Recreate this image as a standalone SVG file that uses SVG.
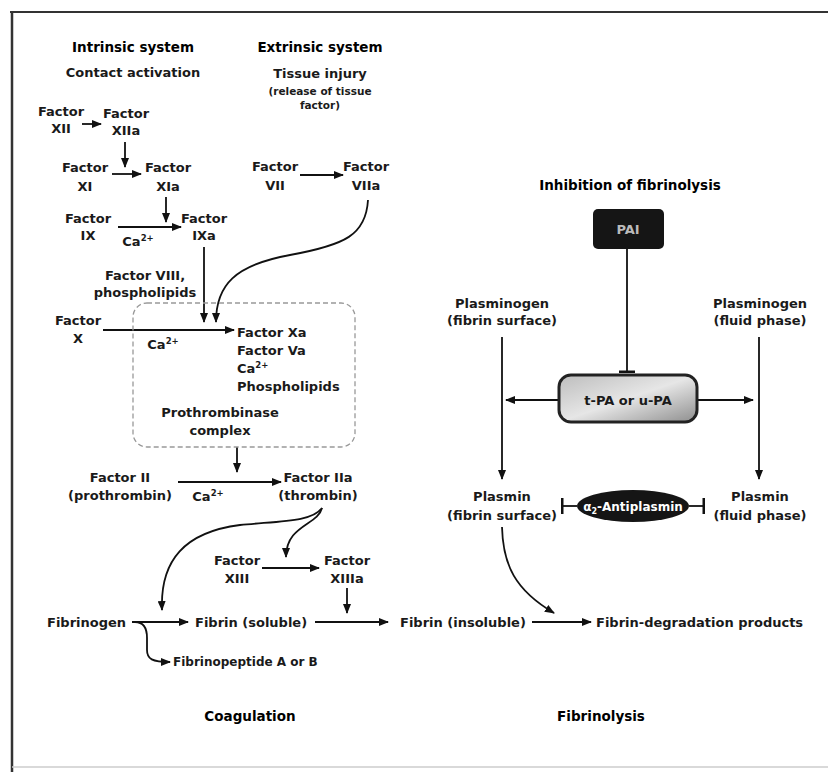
<svg xmlns="http://www.w3.org/2000/svg" width="828" height="772" viewBox="0 0 828 772">
<defs>
<style>
text{font-family:"DejaVu Sans","Liberation Sans",sans-serif;font-size:13px;font-weight:bold;fill:#1a1a1a}
.c{text-anchor:middle}
.h{font-size:13.5px;fill:#000}
.s{font-size:10.5px}
.ln{fill:none;stroke:#111;stroke-width:1.8}
.ar{marker-end:url(#ah)}
.sup{font-size:8.5px}
</style>
<marker id="ah" markerUnits="userSpaceOnUse" markerWidth="10" markerHeight="8" refX="9" refY="4" orient="auto">
<path d="M0,0 L10,4 L0,8 Z" fill="#111"/>
</marker>
<marker id="tb" markerUnits="userSpaceOnUse" markerWidth="4" markerHeight="16" refX="2" refY="8" orient="auto">
<rect x="0.5" y="0" width="2.5" height="16" fill="#111"/>
</marker>
<linearGradient id="tpa" x1="0" y1="0" x2="1" y2="1">
<stop offset="0" stop-color="#bdbdbd"/>
<stop offset="0.5" stop-color="#e6e6e6"/>
<stop offset="1" stop-color="#8e8e8e"/>
</linearGradient>
</defs>
<rect x="0" y="0" width="828" height="772" fill="#fff"/>
<g id="frame">
<line x1="10" y1="12" x2="828" y2="12" stroke="#333" stroke-width="2"/>
<line x1="12" y1="12" x2="12" y2="772" stroke="#333" stroke-width="2.5"/>
<line x1="12" y1="767" x2="828" y2="767" stroke="#ccc" stroke-width="1.5"/>
</g>
<g id="connectors">
<path class="ln ar" d="M82,124 L101,124"/>
<path class="ln ar" d="M125,142 L125,167"/>
<path class="ln ar" d="M112,174 L141,174"/>
<path class="ln ar" d="M166,197 L166,222"/>
<path class="ln ar" d="M118,227 L181,227"/>
<path class="ln ar" d="M300,175 L343,175"/>
<path class="ln ar" d="M368,200 C366,235 345,245 290,255 C235,265 216,285 216,322"/>
<path class="ln ar" d="M204,247 L204,322"/>
<path class="ln ar" d="M103,330 L234,330"/>
<path class="ln ar" d="M237,447 L237,472"/>
<path class="ln ar" d="M178,482 L281,482"/>
<path class="ln ar" d="M322,508 C312,522 280,521 240,525 C185,532 160,560 162,610"/>
<path class="ln ar" d="M322,508 C318,525 286,525 286,557"/>
<path class="ln ar" d="M262,568 L319,568"/>
<path class="ln ar" d="M347,588 L347,613"/>
<path class="ln ar" d="M132,622 L188,622"/>
<path class="ln ar" d="M135,622 C144,622 147,628 147,638 L147,650 C147,659 152,662 170,662"/>
<path class="ln ar" d="M315,622 L388,622"/>
<path class="ln ar" d="M532,622 L591,622"/>
<path class="ln" d="M627,249 L627,372" marker-end="url(#tb)"/>
<path class="ln ar" d="M559,400 L506,400"/>
<path class="ln ar" d="M697,400 L753,400"/>
<path class="ln ar" d="M502,337 L502,479"/>
<path class="ln ar" d="M759,337 L759,479"/>
<path class="ln" d="M577,506 L562,506" marker-end="url(#tb)"/>
<path class="ln" d="M689,506 L704,506" marker-end="url(#tb)"/>
<path class="ln ar" d="M502,527 C503,565 515,590 554,613"/>
</g>
<g id="intrinsic-header">
<text class="c h" x="133" y="52">Intrinsic system</text>
<text class="c" x="133" y="77">Contact activation</text>
</g>
<g id="extrinsic-header">
<text class="c h" x="320" y="52">Extrinsic system</text>
<text class="c" x="320" y="78">Tissue injury</text>
<text class="c s" x="320" y="95">(release of tissue</text>
<text class="c s" x="320" y="109">factor)</text>
</g>
<g id="factor-XII"><text class="c" x="61" y="116">Factor</text><text class="c" x="61" y="133">XII</text></g>
<g id="factor-XIIa"><text class="c" x="126" y="118">Factor</text><text class="c" x="126" y="135">XIIa</text></g>
<g id="factor-XI"><text class="c" x="85" y="172">Factor</text><text class="c" x="85" y="191">XI</text></g>
<g id="factor-XIa"><text class="c" x="168" y="172">Factor</text><text class="c" x="168" y="191">XIa</text></g>
<g id="factor-IX"><text class="c" x="88" y="223">Factor</text><text class="c" x="88" y="240">IX</text></g>
<g id="ca-1"><text class="c" x="138" y="246">Ca<tspan class="sup" dy="-5">2+</tspan></text></g>
<g id="factor-IXa"><text class="c" x="204" y="223">Factor</text><text class="c" x="204" y="240">IXa</text></g>
<g id="factor-VII"><text class="c" x="275" y="171">Factor</text><text class="c" x="275" y="190">VII</text></g>
<g id="factor-VIIa"><text class="c" x="366" y="171">Factor</text><text class="c" x="366" y="190">VIIa</text></g>
<g id="factor-VIII"><text class="c" x="145" y="280">Factor VIII,</text><text class="c" x="145" y="297">phospholipids</text></g>
<g id="factor-X"><text class="c" x="78" y="325">Factor</text><text class="c" x="78" y="343">X</text></g>
<g id="ca-2"><text class="c" x="163" y="349">Ca<tspan class="sup" dy="-5">2+</tspan></text></g>
<g id="prothrombinase">
<rect x="133" y="303" width="222" height="144" rx="14" fill="none" stroke="#999" stroke-width="1.3" stroke-dasharray="5,3"/>
<text x="237" y="337">Factor Xa</text>
<text x="237" y="355">Factor Va</text>
<text x="237" y="373">Ca<tspan class="sup" dy="-5">2+</tspan></text>
<text x="237" y="391">Phospholipids</text>
<text class="c" x="220" y="417">Prothrombinase</text>
<text class="c" x="220" y="435">complex</text>
</g>
<g id="factor-II"><text class="c" x="120" y="482">Factor II</text><text class="c" x="120" y="500">(prothrombin)</text></g>
<g id="ca-3"><text class="c" x="208" y="501">Ca<tspan class="sup" dy="-5">2+</tspan></text></g>
<g id="factor-IIa"><text class="c" x="318" y="482">Factor IIa</text><text class="c" x="318" y="500">(thrombin)</text></g>
<g id="factor-XIII"><text class="c" x="237" y="565">Factor</text><text class="c" x="237" y="583">XIII</text></g>
<g id="factor-XIIIa"><text class="c" x="347" y="565">Factor</text><text class="c" x="347" y="583">XIIIa</text></g>
<g id="fibrinogen"><text x="47" y="627">Fibrinogen</text></g>
<g id="fibrin-soluble"><text x="195" y="627">Fibrin (soluble)</text></g>
<g id="fibrin-insoluble"><text x="400" y="627">Fibrin (insoluble)</text></g>
<g id="fdp"><text x="596" y="627">Fibrin-degradation products</text></g>
<g id="fibrinopeptide"><text x="173" y="666" style="font-size:12px">Fibrinopeptide A or B</text></g>
<g id="inhibition-header"><text class="c h" x="630" y="190">Inhibition of fibrinolysis</text></g>
<g id="pai">
<rect x="593" y="209" width="71" height="40" rx="5" fill="#151515"/>
<text class="c" x="628" y="234" style="fill:#bbb">PAI</text>
</g>
<g id="plasminogen-surface"><text class="c" x="502" y="308">Plasminogen</text><text class="c" x="502" y="325">(fibrin surface)</text></g>
<g id="plasminogen-fluid"><text class="c" x="760" y="308">Plasminogen</text><text class="c" x="760" y="325">(fluid phase)</text></g>
<g id="tpa">
<rect x="559" y="375" width="138" height="47" rx="12" fill="url(#tpa)" stroke="#222" stroke-width="3"/>
<text class="c" x="628" y="405">t-PA or u-PA</text>
</g>
<g id="plasmin-surface"><text class="c" x="502" y="501">Plasmin</text><text class="c" x="502" y="520">(fibrin surface)</text></g>
<g id="plasmin-fluid"><text class="c" x="760" y="501">Plasmin</text><text class="c" x="760" y="520">(fluid phase)</text></g>
<g id="antiplasmin">
<ellipse cx="633" cy="506" rx="56" ry="16" fill="#151515"/>
<text class="c" x="633" y="511" style="fill:#fff;font-size:12px">α<tspan style="font-size:8px" dy="3">2</tspan><tspan dy="-3">-Antiplasmin</tspan></text>
</g>
<g id="coagulation-label"><text class="c h" x="250" y="721">Coagulation</text></g>
<g id="fibrinolysis-label"><text class="c h" x="601" y="721">Fibrinolysis</text></g>
</svg>
